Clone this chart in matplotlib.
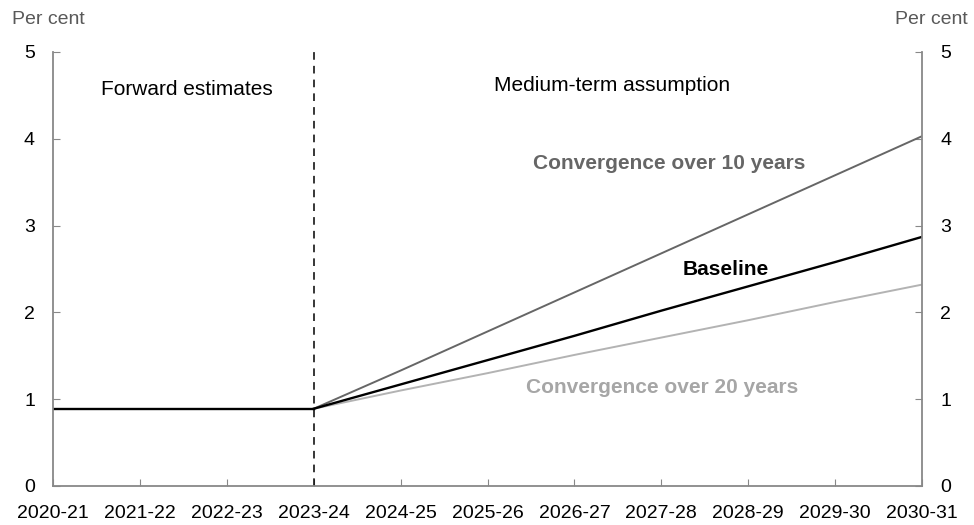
import matplotlib.pyplot as plt

plt.rcParams['font.family'] = ['Liberation Sans', 'DejaVu Sans']

years = ['2020-21', '2021-22', '2022-23', '2023-24', '2024-25', '2025-26',
         '2026-27', '2027-28', '2028-29', '2029-30', '2030-31']

# forward estimates (flat), then the three medium-term paths from 2023-24
forward = [0.89, 0.89, 0.89, 0.89]
conv_10 = [0.89, 1.33, 1.78, 2.23, 2.68, 3.13, 3.58, 4.03]
baseline = [0.89, 1.17, 1.45, 1.73, 2.02, 2.30, 2.58, 2.87]
conv_20 = [0.89, 1.10, 1.30, 1.51, 1.71, 1.91, 2.12, 2.32]

x_fwd = list(range(0, 4))
x_med = list(range(3, 11))

fig = plt.figure(figsize=(9.74, 5.25), dpi=100)
ax = fig.add_axes([53 / 974, 1 - 486 / 525, 869 / 974, 434 / 525])

ax.plot(x_med, conv_20, color='#b3b3b3', lw=1.4)
ax.plot(x_med, conv_10, color='#666666', lw=1.4)
ax.plot(x_med, baseline, color='black', lw=1.7)
ax.plot(x_fwd, forward, color='black', lw=1.7)

ax.axvline(3, color='black', lw=1.1, ls=(0, (5, 4)))

ax.set_xlim(0, 10)
ax.set_ylim(0, 5)
ax.set_xticks(range(len(years)))
ax.set_xticklabels(years)
ax.set_yticks(range(0, 6))

grey = '#888888'
for s in ['left', 'right', 'bottom']:
    ax.spines[s].set_color(grey)
    ax.spines[s].set_linewidth(1.3)
ax.spines['top'].set_visible(False)
ax.tick_params(axis='x', direction='in', length=5, color=grey, labelsize=14, pad=14)
ax.tick_params(axis='y', direction='in', length=5, color=grey, labelsize=14,
               left=True, right=True, labelleft=True, labelright=True, pad=13)

fig.text(12 / 974, 1 - 20 / 525, 'Per cent', fontsize=14, color='#595959', ha='left', va='center')
fig.text(968 / 974, 1 - 20 / 525, 'Per cent', fontsize=14, color='#595959', ha='right', va='center')

ax.text(1.54, 4.57, 'Forward estimates', fontsize=15, ha='center', va='center')
ax.text(6.43, 4.61, 'Medium-term assumption', fontsize=15, ha='center', va='center')
ax.text(7.09, 3.72, 'Convergence over 10 years', fontsize=15, fontweight='bold',
        color='#666666', ha='center', va='center')
ax.text(7.74, 2.49, 'Baseline', fontsize=15, fontweight='bold',
        color='black', ha='center', va='center')
ax.text(7.01, 1.13, 'Convergence over 20 years', fontsize=15, fontweight='bold',
        color='#a6a6a6', ha='center', va='center')

plt.savefig('out.png', dpi=100)
